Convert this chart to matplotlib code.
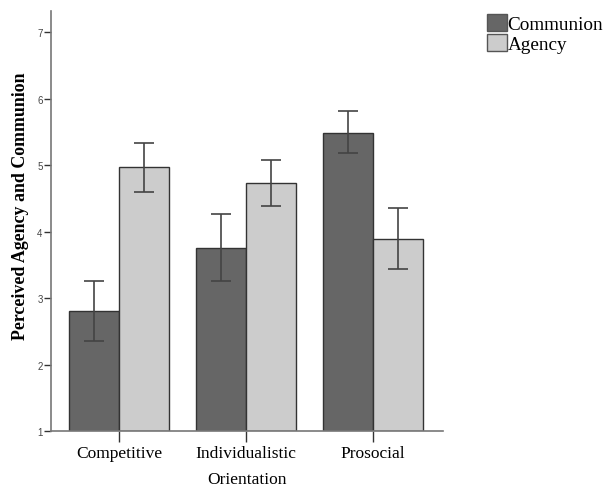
import numpy as np
import matplotlib.pyplot as plt

# data
categories = ['Competitive', 'Individualistic', 'Prosocial']
communion = [2.81, 3.76, 5.49]
communion_lo = [2.36, 3.25, 5.18]
communion_hi = [3.25, 4.26, 5.81]
agency = [4.97, 4.73, 3.89]
agency_lo = [4.60, 4.38, 3.43]
agency_hi = [5.33, 5.08, 4.35]
yticks = [1, 2, 3, 4, 5, 6, 7]

serif = 'Liberation Serif'
sans = 'Liberation Sans'

fig = plt.figure(figsize=(6.07, 4.89), dpi=100)
ax = fig.add_axes([0.084, 0.1166, 0.646, 0.859])

x = np.arange(len(categories))
w = 0.394

def yerr(vals, lo, hi):
    return [np.array(vals) - np.array(lo), np.array(hi) - np.array(vals)]

ax.bar(x - w / 2, np.array(communion) - 1, w, bottom=1, color='#666666',
       edgecolor='#333333', linewidth=1, label='Communion', zorder=2)
ax.bar(x + w / 2, np.array(agency) - 1, w, bottom=1, color='#cccccc',
       edgecolor='#333333', linewidth=1, label='Agency', zorder=2)

ax.errorbar(x - w / 2, communion, yerr=yerr(communion, communion_lo, communion_hi),
            fmt='none', ecolor='#444444', elinewidth=1.2, capsize=7, capthick=1.2, zorder=3)
ax.errorbar(x + w / 2, agency, yerr=yerr(agency, agency_lo, agency_hi),
            fmt='none', ecolor='#444444', elinewidth=1.2, capsize=7, capthick=1.2, zorder=3)

ax.set_xlim(-0.535, 2.551)
ax.set_ylim(1, 7.32)
ax.set_yticks(yticks)
ax.set_yticklabels([str(v) for v in yticks], fontfamily=sans, fontsize=7, color='#444444')
ax.set_xticks(x)
ax.set_xticklabels(categories, fontfamily=serif, fontsize=12.5)
ax.tick_params(axis='x', length=8, width=1, color='#333333', pad=2)
ax.tick_params(axis='y', length=5, width=1, color='#333333', pad=1)

for s in ['top', 'right']:
    ax.spines[s].set_visible(False)
for s in ['left', 'bottom']:
    ax.spines[s].set_color('#777777')
    ax.spines[s].set_linewidth(1.2)

ax.set_xlabel('Orientation', fontfamily=serif, fontsize=12.5, labelpad=7)
ax.set_ylabel('Perceived Agency and Communion', fontfamily=serif, fontsize=12.9,
              fontweight='bold')
ax.yaxis.set_label_coords(-0.055, 0.538)

leg = ax.legend(loc='upper left', bbox_to_anchor=(1.113, 0.993), frameon=False,
                prop={'family': serif, 'size': 13.8}, handlelength=1.0,
                handleheight=1.0, handletextpad=0.05, labelspacing=0.05,
                borderaxespad=0.0, borderpad=0.0)
for p in leg.get_patches():
    p.set_edgecolor('#555555')

# title mostly clipped off at the top of the image
fig.text(0.0, 1.0 + 1 / 489, 'Social Value Orientation', fontfamily=sans,
         fontsize=14, color='#aaaaaa', va='baseline', ha='left')

fig.savefig('out.png', dpi=100)
